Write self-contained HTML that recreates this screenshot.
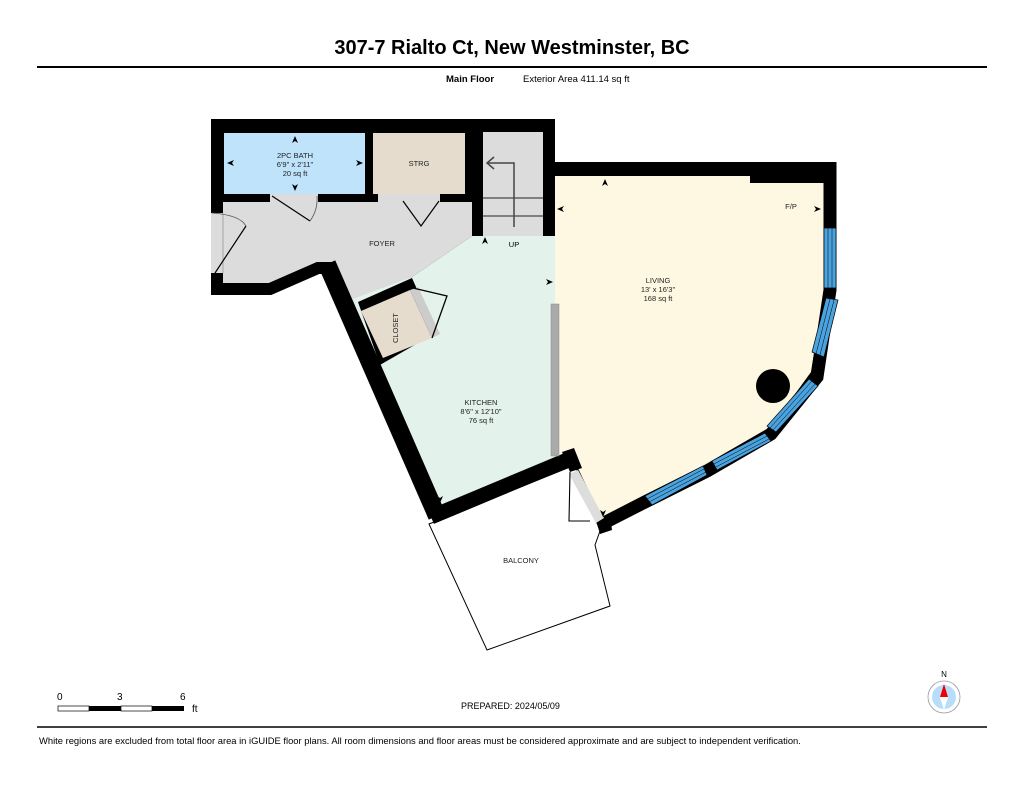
<!DOCTYPE html>
<html><head><meta charset="utf-8"><style>
body{margin:0;background:#fff;}
svg{display:block;font-family:"Liberation Sans",Arial,sans-serif;}
</style></head><body>
<svg width="1024" height="791" viewBox="0 0 1024 791" xmlns="http://www.w3.org/2000/svg">
<rect width="1024" height="791" fill="#fff"/>
<text x="512" y="54" text-anchor="middle" font-size="20" font-weight="bold">307-7 Rialto Ct, New Westminster, BC</text>
<line x1="37" y1="67" x2="987" y2="67" stroke="#000" stroke-width="2"/>
<text x="446" y="82" font-size="9.5" font-weight="bold">Main Floor</text>
<text x="523" y="82" font-size="9.5">Exterior Area 411.14 sq ft</text>

<!-- balcony -->
<polygon points="429,524 575,465 600,531 595,545 610,606 487,650" fill="#fff" stroke="#000" stroke-width="1"/>

<!-- room fills -->
<polygon points="211,119 555,119 555,162 836,162 836,290 822,372 774,436 709,476 643,506 600,531 575,465 436,522 322,266 270,285 211,295" fill="#000"/>
<rect x="224" y="133" width="141" height="61" fill="#bfe3fb"/>
<rect x="373" y="133" width="92" height="61" fill="#e6dccd"/>
<rect x="483" y="132" width="60" height="104" fill="#dcdcdc"/>
<polygon points="223,202 472,202 472,236 412,277 357,300 340,298 318,264 270,283 223,283" fill="#dcdcdc"/>
<polygon points="472,236 555,236 555,460 440,506 350,300 412,277" fill="#e4f2ec"/>
<polygon points="555,176 750,176 750,183 824,183 824,290 811,372 769,430 705,468 602,518 575,462 555,460" fill="#fef8e3"/>

<!-- thick walls -->
<g stroke="#000" fill="none" stroke-linejoin="miter">
<polyline points="211,289 270,289 318,268 334,268" stroke-width="12"/>
<line x1="327" y1="264" x2="437" y2="516" stroke-width="18"/>
<polyline points="431,517 572,458" stroke-width="15"/>
<polyline points="830,162 830,290 817,377 771,434 707,471 645,502 600,525" stroke-width="13"/>
</g>
<polygon points="562,452 574,448 582,468 570,472" fill="#000"/>
<polygon points="596,520 610,514 612,530 600,534" fill="#000"/>

<!-- closet -->
<polygon points="358,302 412,278 420,296 432,335 380,365" fill="#000"/>
<polygon points="361,311 410,290 432,338 383,358" fill="#e6dccd"/>
<polygon points="410,290 418,287 440,334 432,338" fill="#ccc"/>
<text transform="translate(398,328) rotate(-90)" text-anchor="middle" font-size="7.5" fill="#222">CLOSET</text>
<polyline points="413,288 447,296 432,338" fill="none" stroke="#000" stroke-width="1.3"/>
<!-- stairs -->
<line x1="483" y1="198" x2="543" y2="198" stroke="#222" stroke-width="1"/>
<line x1="483" y1="216" x2="543" y2="216" stroke="#222" stroke-width="1"/>
<polyline points="514,227 514,163 488,163" fill="none" stroke="#444" stroke-width="1.5"/>
<polyline points="494,157 487,163 494,169" fill="none" stroke="#444" stroke-width="1.5"/>
<text x="514" y="247" text-anchor="middle" font-size="7.5">UP</text>
<!-- doors -->
<rect x="270" y="194" width="48" height="8" fill="#dcdcdc"/>
<polyline points="272,196 310,221" stroke="#000" stroke-width="1.2" fill="none"/>
<path d="M310,221 Q318,210 317,196" stroke="#555" fill="none" stroke-width="0.8"/>
<rect x="378" y="194" width="62" height="8" fill="#dcdcdc"/>
<polyline points="403,201 421,226 439,201" stroke="#000" stroke-width="1.2" fill="none"/>
<rect x="211" y="213" width="12" height="60" fill="#dcdcdc"/>
<line x1="223" y1="213" x2="223" y2="273" stroke="#999" stroke-width="0.8"/>
<polyline points="215,273 246,226" stroke="#000" stroke-width="1.2" fill="none"/>
<path d="M212,213 Q240,215 246,226" stroke="#555" fill="none" stroke-width="0.8"/>
<polygon points="569,474 578,470 604,518 596,523" fill="#ddd"/>
<polyline points="570,472 569,521 590,521" stroke="#000" stroke-width="1.1" fill="none"/>
<!-- partition bar -->
<rect x="551" y="304" width="8" height="152" fill="#aaa" stroke="#888" stroke-width="0.5"/>
<!-- windows -->
<g stroke="#000" stroke-width="0.7" fill="#4aa3df">
<polygon points="824,228 836,228 836,288 824,288"/>
<polygon points="826,298 838,300 824,357 812,352"/>
<polygon points="809,379 818,386 776,432 767,426"/>
<polygon points="765,433 771,441 717,470 712,461"/>
<polygon points="703,466 707,475 652,505 645,496"/>
</g>
<g stroke="#000" stroke-width="0.5">
<line x1="828" y1="228" x2="828" y2="288"/><line x1="832" y1="228" x2="832" y2="288"/>
<line x1="830" y1="299" x2="816" y2="354"/><line x1="834" y1="300" x2="820" y2="355"/>
<line x1="812" y1="381" x2="770" y2="428"/><line x1="815" y1="384" x2="773" y2="430"/>
<line x1="714" y1="464" x2="767" y2="436"/><line x1="716" y1="467" x2="769" y2="439"/>
<line x1="647" y1="499" x2="704" y2="469"/><line x1="649" y1="502" x2="706" y2="472"/>
</g>
<circle cx="773" cy="386" r="17" fill="#000"/>
<!-- labels -->
<g font-size="7.5" text-anchor="middle" fill="#222">
<text x="295" y="158">2PC BATH</text><text x="295" y="167">6'9" x 2'11"</text><text x="295" y="176">20 sq ft</text>
<text x="419" y="166">STRG</text>
<text x="382" y="246">FOYER</text>
<text x="658" y="283">LIVING</text><text x="658" y="292">13' x 16'3"</text><text x="658" y="301">168 sq ft</text>
<text x="791" y="209">F/P</text>
<text x="481" y="405">KITCHEN</text><text x="481" y="414">8'6" x 12'10"</text><text x="481" y="423">76 sq ft</text>
<text x="521" y="563">BALCONY</text>
</g>
<!-- arrow marks -->
<g fill="#000">
<polygon points="295,136 292,143 295,141 298,143"/>
<polygon points="295,191 292,184 295,186 298,184"/>
<polygon points="227,163 234,160 232,163 234,166"/>
<polygon points="363,163 356,160 358,163 356,166"/>
<polygon points="605,179 602,186 605,184 608,186"/>
<polygon points="557,209 564,206 562,209 564,212"/>
<polygon points="821,209 814,206 816,209 814,212"/>
<polygon points="553,282 546,279 548,282 546,285"/>
<polygon points="485,237 482,244 485,242 488,244"/>
<polygon points="379,381 386,377 384,381 386,384"/>
<polygon points="440,503 437,496 440,498 443,496"/>
<polygon points="603,517 600,510 603,512 606,510"/>
</g>
<!-- scale -->
<text x="57" y="700" font-size="10">0</text><text x="117" y="700" font-size="10">3</text><text x="180" y="700" font-size="10">6</text>
<text x="192" y="712" font-size="10">ft</text>
<rect x="58" y="706" width="31" height="5" fill="#fff" stroke="#000" stroke-width="0.7"/>
<rect x="89" y="706" width="32" height="5" fill="#000"/>
<rect x="121" y="706" width="31" height="5" fill="#fff" stroke="#000" stroke-width="0.7"/>
<rect x="152" y="706" width="32" height="5" fill="#000"/>
<text x="461" y="709" font-size="9">PREPARED: 2024/05/09</text>
<!-- compass -->
<text x="944" y="677" font-size="8" text-anchor="middle">N</text>
<circle cx="944" cy="697" r="16" fill="#fff" stroke="#999" stroke-width="0.8"/>
<circle cx="944" cy="697" r="12" fill="#b8ddf8"/>
<polygon points="944,684 940,697 948,697" fill="#e00"/>
<polygon points="944,710 940,697 948,697" fill="#fff"/>
<line x1="37" y1="727" x2="987" y2="727" stroke="#000" stroke-width="1.5"/>
<text x="39" y="744" font-size="9.4">White regions are excluded from total floor area in iGUIDE floor plans. All room dimensions and floor areas must be considered approximate and are subject to independent verification.</text>
</svg>
</body></html>
